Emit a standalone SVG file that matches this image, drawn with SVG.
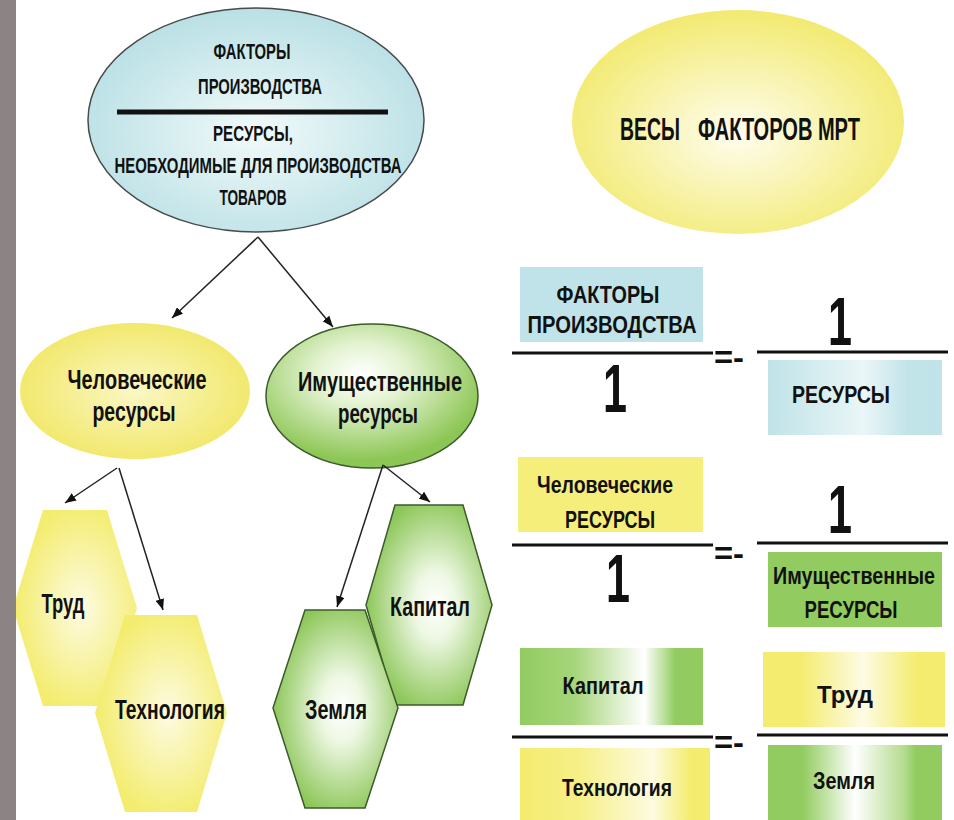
<svg xmlns="http://www.w3.org/2000/svg" width="954" height="820" viewBox="0 0 954 820">
<style>
.t{font-family:"Liberation Sans Narrow","Liberation Sans",Arial,sans-serif;font-weight:bold;fill:#111;text-anchor:middle}
.s20{font-size:22px}.s22{font-size:24px}.s25{font-size:27px}.s26{font-size:28px}.s30{font-size:32px}.one{font-size:68px}.eq{font-size:32px}
.arr{stroke:#222;stroke-width:1.5;fill:none;marker-end:url(#ah)}
.bar{stroke:#111;stroke-width:3}
.ghex{stroke:#3c5a2c;stroke-width:1.5;fill:url(#gHex)}
.yhex{fill:url(#yHex)}
</style>
<defs>
<marker id="ah" viewBox="0 0 10 8" refX="10" refY="4" markerWidth="11" markerHeight="9" markerUnits="userSpaceOnUse" orient="auto">
<path d="M0,0 L10,4 L0,8 z" fill="#111"/>
</marker>
<radialGradient id="cyanEl" cx="0.5" cy="0.55" r="0.55">
<stop offset="0" stop-color="#f2fafa"/><stop offset="1" stop-color="#b9e0e5"/>
</radialGradient>
<radialGradient id="yelEl" cx="0.5" cy="0.55" r="0.55">
<stop offset="0" stop-color="#fffdf0"/><stop offset="1" stop-color="#f2ea70"/>
</radialGradient>
<radialGradient id="yelEl2" cx="0.5" cy="0.5" r="0.55">
<stop offset="0" stop-color="#fbf7c4"/><stop offset="1" stop-color="#f1e766"/>
</radialGradient>
<radialGradient id="grnEl" cx="0.45" cy="0.35" r="0.6">
<stop offset="0" stop-color="#ffffff"/><stop offset="0.35" stop-color="#e4f3d2"/><stop offset="1" stop-color="#8cc654"/>
</radialGradient>
<radialGradient id="yHex" cx="0.55" cy="0.5" r="0.55">
<stop offset="0" stop-color="#fdfbe2"/><stop offset="1" stop-color="#f3ec6c"/>
</radialGradient>
<radialGradient id="gHex" cx="0.55" cy="0.5" r="0.55">
<stop offset="0" stop-color="#ffffff"/><stop offset="0.3" stop-color="#eef8e4"/><stop offset="1" stop-color="#8cc658"/>
</radialGradient>
<linearGradient id="cyanBar" x1="0" x2="1" y1="0" y2="0">
<stop offset="0" stop-color="#bfe3e8"/><stop offset="0.55" stop-color="#eaf6f7"/><stop offset="0.8" stop-color="#c2e4e9"/><stop offset="1" stop-color="#bfe3e8"/>
</linearGradient>
<linearGradient id="grnBar" x1="0" x2="1" y1="0" y2="0">
<stop offset="0" stop-color="#92cc60"/><stop offset="0.3" stop-color="#a6d57a"/><stop offset="0.68" stop-color="#ffffff"/><stop offset="0.85" stop-color="#92cc60"/><stop offset="1" stop-color="#92cc60"/>
</linearGradient>
<linearGradient id="yelBar" x1="0" x2="1" y1="0" y2="0">
<stop offset="0" stop-color="#f4ec6e"/><stop offset="0.3" stop-color="#f6ef86"/><stop offset="0.7" stop-color="#fdfbe0"/><stop offset="0.9" stop-color="#f4ec6e"/><stop offset="1" stop-color="#f4ec6e"/>
</linearGradient>
<linearGradient id="grnBar2" x1="0" x2="1" y1="0" y2="0">
<stop offset="0" stop-color="#92cc60"/><stop offset="0.2" stop-color="#92cc60"/><stop offset="0.5" stop-color="#ffffff"/><stop offset="0.78" stop-color="#b6dc90"/><stop offset="0.85" stop-color="#92cc60"/><stop offset="1" stop-color="#92cc60"/>
</linearGradient>
<linearGradient id="yelBar2" x1="0" x2="1" y1="0" y2="0">
<stop offset="0" stop-color="#f4ec6e"/><stop offset="0.2" stop-color="#f4ec6e"/><stop offset="0.55" stop-color="#fdfbe4"/><stop offset="0.85" stop-color="#f4ec6e"/><stop offset="1" stop-color="#f4ec6e"/>
</linearGradient>
</defs>

<rect x="0" y="0" width="954" height="820" fill="#ffffff"/>

<g id="factors">
<ellipse cx="256" cy="120" rx="168" ry="112" fill="url(#cyanEl)" stroke="#4a4a4a" stroke-width="1.5"/>
<text class="t s20" transform="translate(252,59) scale(0.65,1)" textLength="118.5" lengthAdjust="spacingAndGlyphs">ФАКТОРЫ</text>
<text class="t s20" transform="translate(260,94) scale(0.65,1)" textLength="190.8" lengthAdjust="spacingAndGlyphs">ПРОИЗВОДСТВА</text>
<line x1="117" y1="112" x2="388" y2="112" stroke="#111" stroke-width="5"/>
<text class="t s20" transform="translate(253,141) scale(0.65,1)" textLength="123" lengthAdjust="spacingAndGlyphs">РЕСУРСЫ,</text>
<text class="t s20" transform="translate(258,173) scale(0.65,1)" textLength="441.5" lengthAdjust="spacingAndGlyphs">НЕОБХОДИМЫЕ ДЛЯ ПРОИЗВОДСТВА</text>
<text class="t s20" transform="translate(253,205) scale(0.65,1)" textLength="103" lengthAdjust="spacingAndGlyphs">ТОВАРОВ</text>
</g>

<g id="weights">
<ellipse cx="738" cy="122" rx="166" ry="112" fill="url(#yelEl)"/>
<text class="t s30" transform="translate(650,140) scale(0.65,1)" textLength="92.3" lengthAdjust="spacingAndGlyphs">ВЕСЫ</text>
<text class="t s30" transform="translate(779,140) scale(0.65,1)" textLength="249" lengthAdjust="spacingAndGlyphs">ФАКТОРОВ МРТ</text>
</g>

<g id="human">
<ellipse cx="135" cy="391" rx="115" ry="68" fill="url(#yelEl2)"/>
<text class="t s26" transform="translate(137,389) scale(0.65,1)" textLength="213.8" lengthAdjust="spacingAndGlyphs">Человеческие</text>
<text class="t s26" transform="translate(134,421) scale(0.65,1)" textLength="127.7" lengthAdjust="spacingAndGlyphs">ресурсы</text>
</g>

<g id="property">
<ellipse cx="372" cy="396" rx="106" ry="72" fill="url(#grnEl)" stroke="#3c5a2c" stroke-width="1.5"/>
<text class="t s26" transform="translate(380,391) scale(0.65,1)" textLength="252.3" lengthAdjust="spacingAndGlyphs">Имущественные</text>
<text class="t s26" transform="translate(378,423) scale(0.65,1)" textLength="123" lengthAdjust="spacingAndGlyphs">ресурсы</text>
</g>

<g id="labor">
<polygon class="yhex" points="43,510 107,510 137,608 107,706 43,706 13,608"/>
<text class="t s25" transform="translate(63,613) scale(0.65,1)" textLength="66.2" lengthAdjust="spacingAndGlyphs">Труд</text>
</g>

<g id="technology">
<polygon class="yhex" points="125,615 197,615 227,713 197,812 125,812 95,713"/>
<text class="t s25" transform="translate(170,719) scale(0.65,1)" textLength="169.2" lengthAdjust="spacingAndGlyphs">Технология</text>
</g>

<g id="capital">
<polygon class="ghex" points="395,505 463,505 492,605 463,705 395,705 366,605"/>
<text class="t s25" transform="translate(430,616) scale(0.65,1)" textLength="123" lengthAdjust="spacingAndGlyphs">Капитал</text>
</g>

<g id="land">
<polygon class="ghex" points="305,610 365,610 398,708 365,808 305,808 273,708"/>
<text class="t s25" transform="translate(336,719) scale(0.65,1)" textLength="95.4" lengthAdjust="spacingAndGlyphs">Земля</text>
</g>

<g id="connectors">
<line class="arr" x1="258" y1="237" x2="172" y2="318"/>
<line class="arr" x1="258" y1="237" x2="333" y2="327"/>
<line class="arr" x1="117" y1="468" x2="65" y2="503"/>
<line class="arr" x1="119" y1="468" x2="163" y2="610"/>
<line class="arr" x1="383" y1="465" x2="337" y2="607"/>
<line class="arr" x1="383" y1="465" x2="430" y2="502"/>
</g>

<g id="eq1">
<rect x="520" y="267" width="183" height="75" fill="#bfe3e8"/>
<text class="t s22" transform="translate(608,303) scale(0.65,1)" textLength="158.5" lengthAdjust="spacingAndGlyphs">ФАКТОРЫ</text>
<text class="t s22" transform="translate(612,333) scale(0.65,1)" textLength="260" lengthAdjust="spacingAndGlyphs">ПРОИЗВОДСТВА</text>
<line class="bar" x1="512" y1="353" x2="713" y2="353"/>
<text class="t one" transform="translate(615,412) scale(0.65,1)" textLength="36.9" lengthAdjust="spacingAndGlyphs">1</text>
<text class="t eq" transform="translate(729,368) scale(0.65,1)" textLength="46.2" lengthAdjust="spacingAndGlyphs">=-</text>
<line class="bar" x1="757" y1="352" x2="948" y2="352"/>
<text class="t one" transform="translate(840,345) scale(0.65,1)" textLength="36.9" lengthAdjust="spacingAndGlyphs">1</text>
<rect x="768" y="360" width="174" height="75" fill="url(#cyanBar)"/>
<text class="t s22" transform="translate(841,403) scale(0.65,1)" textLength="150.8" lengthAdjust="spacingAndGlyphs">РЕСУРСЫ</text>
</g>

<g id="eq2">
<rect x="518" y="457" width="185" height="75" fill="#f6ee7a"/>
<text class="t s22" transform="translate(605,493) scale(0.65,1)" textLength="209.2" lengthAdjust="spacingAndGlyphs">Человеческие</text>
<text class="t s22" transform="translate(610,528) scale(0.65,1)" textLength="138.5" lengthAdjust="spacingAndGlyphs">РЕСУРСЫ</text>
<line class="bar" x1="512" y1="545" x2="713" y2="545"/>
<text class="t one" transform="translate(618,602) scale(0.65,1)" textLength="36.9" lengthAdjust="spacingAndGlyphs">1</text>
<text class="t eq" transform="translate(729,564) scale(0.65,1)" textLength="46.2" lengthAdjust="spacingAndGlyphs">=-</text>
<line class="bar" x1="757" y1="543" x2="948" y2="543"/>
<text class="t one" transform="translate(840,533) scale(0.65,1)" textLength="36.9" lengthAdjust="spacingAndGlyphs">1</text>
<rect x="768" y="552" width="174" height="75" fill="#92cc60"/>
<text class="t s22" transform="translate(854,584) scale(0.65,1)" textLength="249.2" lengthAdjust="spacingAndGlyphs">Имущественные</text>
<text class="t s22" transform="translate(851,618) scale(0.65,1)" textLength="143.1" lengthAdjust="spacingAndGlyphs">РЕСУРСЫ</text>
</g>

<g id="eq3">
<rect x="520" y="648" width="183" height="77" fill="url(#grnBar)"/>
<text class="t s22" transform="translate(603,694) scale(0.65,1)" textLength="124.6" lengthAdjust="spacingAndGlyphs">Капитал</text>
<line class="bar" x1="512" y1="737" x2="713" y2="737"/>
<rect x="520" y="748" width="190" height="72" fill="url(#yelBar)"/>
<text class="t s22" transform="translate(617,796) scale(0.65,1)" textLength="169.2" lengthAdjust="spacingAndGlyphs">Технология</text>
<text class="t eq" transform="translate(729,753) scale(0.65,1)" textLength="46.2" lengthAdjust="spacingAndGlyphs">=-</text>
<line class="bar" x1="757" y1="735" x2="948" y2="735"/>
<rect x="763" y="652" width="182" height="75" fill="url(#yelBar2)"/>
<text class="t s22" transform="translate(845,703) scale(0.65,1)" textLength="86.2" lengthAdjust="spacingAndGlyphs">Труд</text>
<rect x="768" y="745" width="174" height="75" fill="url(#grnBar2)"/>
<text class="t s22" transform="translate(844,789) scale(0.65,1)" textLength="95.4" lengthAdjust="spacingAndGlyphs">Земля</text>
</g>

<rect x="0" y="0" width="16" height="820" fill="#8b8384"/>
</svg>
